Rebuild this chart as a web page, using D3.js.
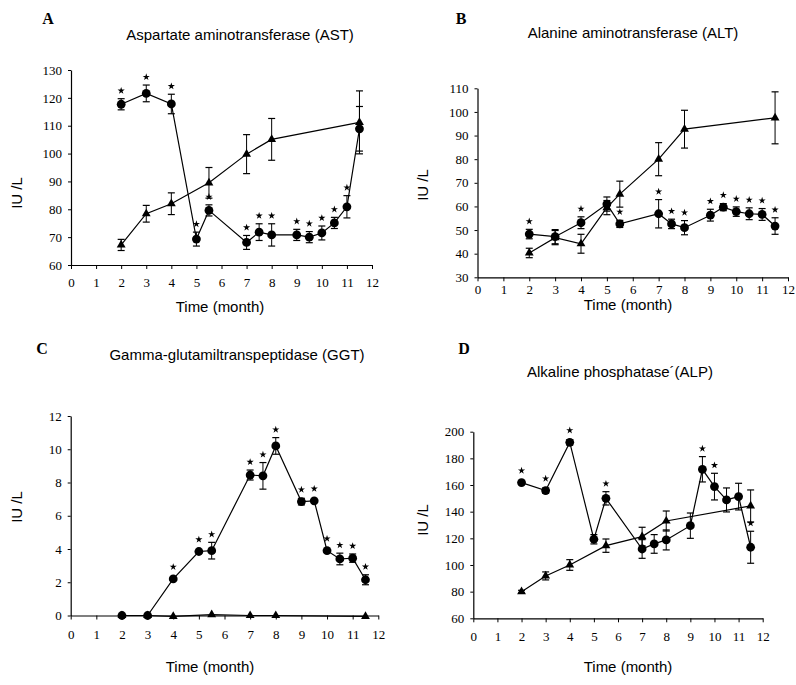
<!DOCTYPE html>
<html>
<head>
<meta charset="utf-8">
<script src="https://cdn.jsdelivr.net/npm/d3@7"></script>
<style>
  html, body { margin: 0; padding: 0; background: #fff; }
  svg { display: block; }
</style>
</head>
<body>
<svg id="chart" width="796" height="685"></svg>
<script>
// ---------------- DATA ----------------
const monthTicks = [0,1,2,3,4,5,6,7,8,9,10,11,12];

// Panel A: AST
const astTitle = "Aspartate aminotransferase (AST)";
const astTicks = [60,70,80,90,100,110,120,130];
const astCircMonths = [2,3,4,5,5.5,7,7.5,8,9,9.5,10,10.5,11,11.5];
const astCircValues = [117.7,121.6,117.8,69.3,79.6,68.1,71.8,70.8,70.8,70.0,71.5,75.1,80.9,108.9];
const astCircErr    = [2,3,3.5,2.5,2,2.5,3,4,2,2,2.5,2,4,8];
const astCircStar   = [1,1,1,1,1,1,1,1,1,1,1,1,1,0];
const astTriMonths  = [2,3,4,5.5,7,8,11.5];
const astTriValues  = [67.2,78.4,82.0,89.5,99.8,105.1,111.2];
const astTriErr     = [2,3,3.9,5.5,7,7.5,11.3];

// Panel B: ALT
const altTitle = "Alanine aminotransferase (ALT)";
const altTicks = [30,40,50,60,70,80,90,100,110];
const altCircMonths = [2,3,4,5,5.5,7,7.5,8,9,9.5,10,10.5,11,11.5];
const altCircValues = [48.3,47.2,53.1,61.0,52.6,56.9,52.6,51.0,56.3,59.7,57.8,56.9,56.6,51.7];
const altCircErr    = [2,3,2.5,3,1.5,6,2,3,2.5,1.5,2,2.5,2.5,3.5];
const altCircStar   = [1,0,1,0,1,1,1,1,1,1,1,1,1,1];
const altTriMonths  = [2,3,4,5,5.5,7,8,11.5];
const altTriValues  = [40.3,46.8,44.2,59.5,65.2,80.0,92.7,97.5];
const altTriErr     = [2,3,4,3,5.5,7,8,11];

// Panel C: GGT
const ggtTitle = "Gamma-glutamiltranspeptidase (GGT)";
const ggtTicks = [0,2,4,6,8,10,12];
const ggtCircMonths = [2,3,4,5,5.5,7,7.5,8,9,9.5,10,10.5,11,11.5];
const ggtCircValues = [0,0,2.2,3.85,3.9,8.45,8.4,10.2,6.85,6.9,3.9,3.4,3.45,2.15];
const ggtCircErr    = [0.05,0.05,0.1,0.1,0.5,0.3,0.8,0.5,0.2,0.1,0.1,0.35,0.25,0.3];
const ggtCircStar   = [0,0,1,1,1,1,1,1,1,1,1,1,1,1];
const ggtTriMonths  = [2,3,4,5.5,7,8,11.5];
const ggtTriValues  = [0,0,-0.05,0.05,0,0,-0.05];
const ggtTriErr     = [0,0,0,0,0,0,0];

// Panel D: ALP
const alpTitle = "Alkaline phosphatase\u00b4(ALP)";
const alpTicks = [60,80,100,120,140,160,180,200];
const alpCircMonths = [2,3,4,5,5.5,7,7.5,8,9,9.5,10,10.5,11,11.5];
const alpCircValues = [161.8,155.8,192,119.3,150,112,115.8,118.8,129.5,171.8,158.8,148.8,151.3,113.3];
const alpCircErr    = [1,2,2,3.5,5,7,7,7.5,9.5,9.5,10,9,10,12];
const alpCircStar   = [1,1,1,0,1,0,0,0,0,1,1,0,0,1];
const alpTriMonths  = [2,3,4,5.5,7,8,11.5];
const alpTriValues  = [80,91.8,100,114.5,121.3,133,144.3];
const alpTriErr     = [1,3,4,5,7,7.5,12];

// ---------------- LAYOUT ----------------
const panels = [
  { letter:"A", title:astTitle, yTicks:astTicks, yDomain:[60,130], xPad:9,
    xRange:[71,372], yRange:[265,70], letterPos:[48,24], titlePos:[240,40],
    yLabelPos:[22,193], xLabelPos:[220,312],
    circ:{m:astCircMonths,v:astCircValues,e:astCircErr,s:astCircStar},
    tri:{m:astTriMonths,v:astTriValues,e:astTriErr} },
  { letter:"B", title:altTitle, yTicks:altTicks, yDomain:[30,110], xPad:3,
    xRange:[477.5,788], yRange:[277.3,88.3], letterPos:[461,24], titlePos:[633,38],
    yLabelPos:[428,185], xLabelPos:[628,310],
    circ:{m:altCircMonths,v:altCircValues,e:altCircErr,s:altCircStar},
    tri:{m:altTriMonths,v:altTriValues,e:altTriErr} },
  { letter:"C", title:ggtTitle, yTicks:ggtTicks, yDomain:[0,12], xPad:10,
    xRange:[70.7,378.3], yRange:[615.5,416], letterPos:[42,354], titlePos:[237,360],
    yLabelPos:[22,507], xLabelPos:[210,672],
    circ:{m:ggtCircMonths,v:ggtCircValues,e:ggtCircErr,s:ggtCircStar},
    tri:{m:ggtTriMonths,v:ggtTriValues,e:ggtTriErr} },
  { letter:"D", title:alpTitle, yTicks:alpTicks, yDomain:[60,200], xPad:9,
    xRange:[473.3,762.7], yRange:[618.3,431.7], letterPos:[464,354], titlePos:[620,377],
    yLabelPos:[428,520], xLabelPos:[628,672],
    circ:{m:alpCircMonths,v:alpCircValues,e:alpCircErr,s:alpCircStar},
    tri:{m:alpTriMonths,v:alpTriValues,e:alpTriErr} }
];

const svg = d3.select("#chart");
const sans = "'Liberation Sans', Arial, sans-serif";
const serif = "'Liberation Serif', 'Times New Roman', serif";

panels.forEach(p => {
  const g = svg.append("g");
  const x = d3.scaleLinear().domain([0,12]).range(p.xRange);
  const y = d3.scaleLinear().domain(p.yDomain).range(p.yRange);

  // axes
  const xAxis = d3.axisBottom(x).tickValues(monthTicks).tickSize(4).tickPadding(p.xPad).tickSizeOuter(0);
  const yAxis = d3.axisLeft(y).tickValues(p.yTicks).tickSize(3).tickPadding(6).tickSizeOuter(0);
  const gx = g.append("g").attr("transform", `translate(0,${p.yRange[0]})`).call(xAxis);
  const gy = g.append("g").attr("transform", `translate(${p.xRange[0]},0)`).call(yAxis);
  [gx, gy].forEach(a => {
    a.selectAll("path.domain").attr("stroke","#000").attr("stroke-width",1.2);
    a.selectAll(".tick line").attr("stroke","#000").attr("stroke-width",1);
    a.selectAll(".tick text").attr("font-family", serif).attr("font-size", 13).attr("fill","#000");
  });

  // labels
  g.append("text").attr("x", p.letterPos[0]).attr("y", p.letterPos[1])
    .attr("font-family", serif).attr("font-weight","bold").attr("font-size",16)
    .attr("text-anchor","middle").text(p.letter);
  g.append("text").attr("x", p.titlePos[0]).attr("y", p.titlePos[1])
    .attr("font-family", sans).attr("font-size",15).attr("text-anchor","middle").text(p.title);
  g.append("text").attr("transform", `translate(${p.yLabelPos[0]},${p.yLabelPos[1]}) rotate(-90)`)
    .attr("font-family", sans).attr("font-size",15).attr("text-anchor","middle").text("IU /L");
  g.append("text").attr("x", p.xLabelPos[0]).attr("y", p.xLabelPos[1])
    .attr("font-family", sans).attr("font-size",15).attr("text-anchor","middle").text("Time (month)");

  const line = d3.line().x(d => x(d.m)).y(d => y(d.v));
  const mk = s => s.m.map((m,i) => ({m, v:s.v[i], e:s.e[i], s: s.s ? s.s[i] : 0}));
  const triData = mk(p.tri);
  const circData = mk(p.circ);

  [triData, circData].forEach(data => {
    g.append("path").datum(data).attr("d", line)
      .attr("fill","none").attr("stroke","#000").attr("stroke-width",1.2);
    const eb = g.append("g").selectAll("g").data(data.filter(d => d.e > 0.15)).join("g");
    eb.append("line").attr("x1", d=>x(d.m)).attr("x2", d=>x(d.m))
      .attr("y1", d=>y(d.v-d.e)).attr("y2", d=>y(d.v+d.e)).attr("stroke","#000").attr("stroke-width",1);
    eb.append("line").attr("x1", d=>x(d.m)-3.5).attr("x2", d=>x(d.m)+3.5)
      .attr("y1", d=>y(d.v+d.e)).attr("y2", d=>y(d.v+d.e)).attr("stroke","#000").attr("stroke-width",1.2);
    eb.append("line").attr("x1", d=>x(d.m)-3.5).attr("x2", d=>x(d.m)+3.5)
      .attr("y1", d=>y(d.v-d.e)).attr("y2", d=>y(d.v-d.e)).attr("stroke","#000").attr("stroke-width",1.2);
  });

  g.append("g").selectAll("path").data(triData).join("path")
    .attr("transform", d => `translate(${x(d.m)},${y(d.v)})`)
    .attr("d", d3.symbol(d3.symbolTriangle, 34)).attr("fill","#000");
  g.append("g").selectAll("circle").data(circData).join("circle")
    .attr("cx", d=>x(d.m)).attr("cy", d=>y(d.v)).attr("r",4.4).attr("fill","#000");
  g.append("g").selectAll("path").data(circData.filter(d => d.s)).join("path")
    .attr("transform", d => `translate(${x(d.m)},${Math.min(y(d.v+d.e), y(d.v)-4) - 8})`)
    .attr("d", d3.symbol(d3.symbolStar, 16)).attr("fill","#000");
});
</script>
</body>
</html>
